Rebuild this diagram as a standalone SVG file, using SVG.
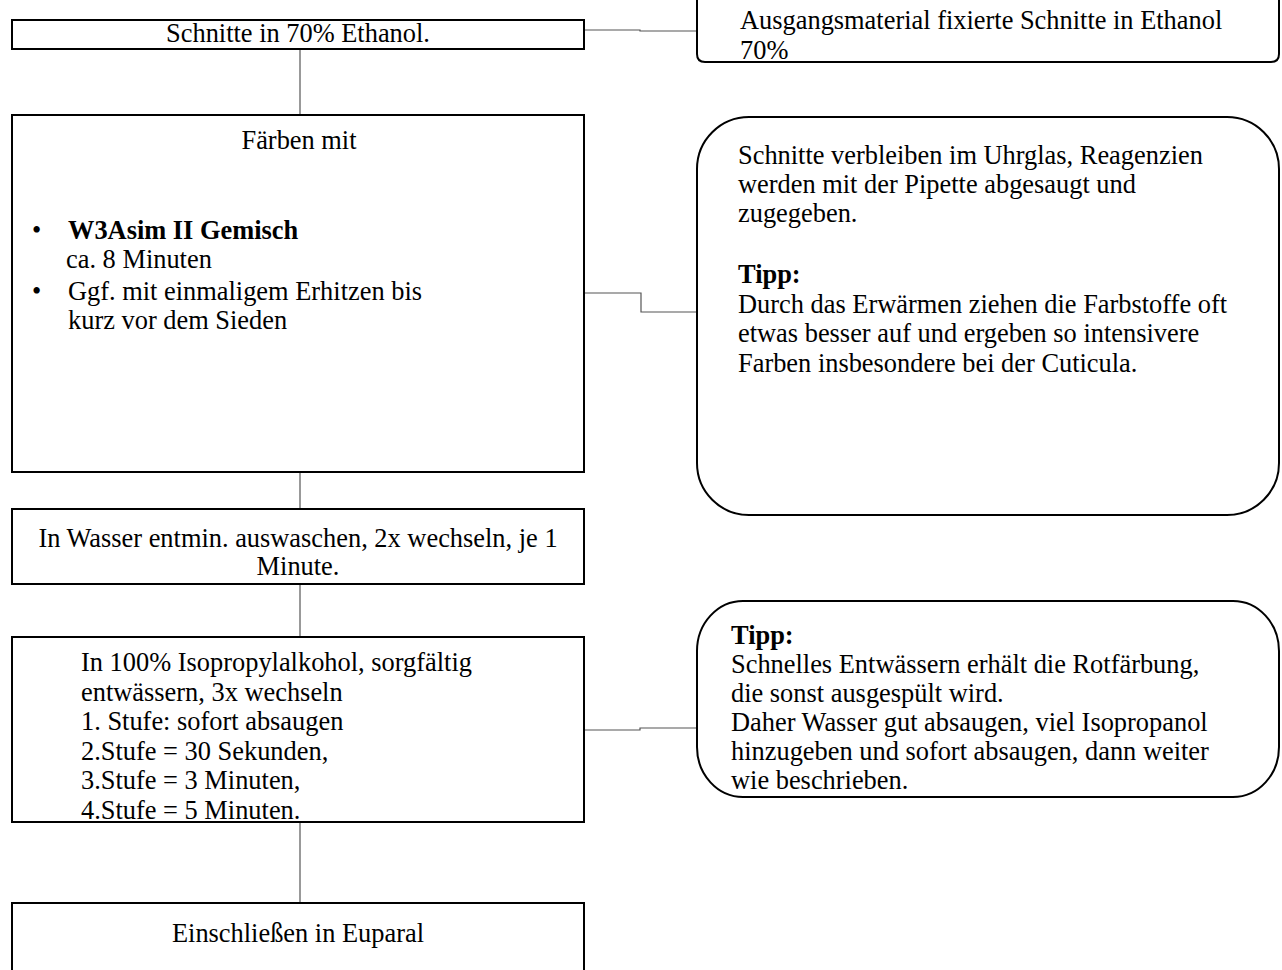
<svg xmlns="http://www.w3.org/2000/svg" width="1282" height="970" viewBox="0 0 1282 970">
<style>
.box{fill:#fff;stroke:#000;stroke-width:2}
.t{font-family:"Liberation Serif","Times New Roman",serif;font-size:26.4px;fill:#000}
.c{text-anchor:middle}
.b{font-weight:bold}
.con{fill:none;stroke:#555;stroke-width:1.2}
</style>
<rect width="1282" height="970" fill="#fff"/>
<g id="connectors">
<path class="con" d="M300,49 V115"/>
<path class="con" d="M300,472 V509"/>
<path class="con" d="M300,584 V637"/>
<path class="con" d="M300,822 V903"/>
<path class="con" d="M584,30 H640 V31 H697"/>
<path class="con" d="M584,293 H641 V312 H697"/>
<path class="con" d="M584,730 H640 V728 H697"/>
</g>
<g id="n1">
<rect class="box" x="12" y="20" width="572" height="29"/>
<text class="t c" x="298" y="42">Schnitte in 70% Ethanol.</text>
</g>
<g id="n2">
<path class="box" d="M697,-10 V54 Q697,62 705,62 H1271 Q1279,62 1279,54 V-10"/>
<text class="t" x="740" y="29">Ausgangsmaterial fixierte Schnitte in Ethanol</text>
<text class="t" x="740" y="59">70%</text>
</g>
<g id="n3">
<rect class="box" x="12" y="115" width="572" height="357"/>
<text class="t c" x="299" y="149">Färben mit</text>
<text class="t" x="32" y="239">•</text>
<text class="t b" x="68" y="239">W3Asim II Gemisch</text>
<text class="t" x="66" y="268">ca. 8 Minuten</text>
<text class="t" x="32" y="300">•</text>
<text class="t" x="68" y="300">Ggf. mit einmaligem Erhitzen bis</text>
<text class="t" x="68" y="329">kurz vor dem Sieden</text>
</g>
<g id="n4">
<rect class="box" x="697" y="117" width="582" height="398" rx="52" ry="52"/>
<text class="t" x="738" y="164">Schnitte verbleiben im Uhrglas, Reagenzien</text>
<text class="t" x="738" y="193">werden mit der Pipette abgesaugt und</text>
<text class="t" x="738" y="222">zugegeben.</text>
<text class="t b" x="738" y="283">Tipp:</text>
<text class="t" x="738" y="313">Durch das Erwärmen ziehen die Farbstoffe oft</text>
<text class="t" x="738" y="342">etwas besser auf und ergeben so intensivere</text>
<text class="t" x="738" y="372">Farben insbesondere bei der Cuticula.</text>
</g>
<g id="n5">
<rect class="box" x="12" y="509" width="572" height="75"/>
<text class="t c" x="298" y="547">In Wasser entmin. auswaschen, 2x wechseln, je 1</text>
<text class="t c" x="298" y="575">Minute.</text>
</g>
<g id="n6">
<rect class="box" x="12" y="637" width="572" height="185"/>
<text class="t" x="81" y="671">In 100% Isopropylalkohol, sorgfältig</text>
<text class="t" x="81" y="701">entwässern, 3x wechseln</text>
<text class="t" x="81" y="730">1. Stufe: sofort absaugen</text>
<text class="t" x="81" y="760">2.Stufe = 30 Sekunden,</text>
<text class="t" x="81" y="789">3.Stufe = 3 Minuten,</text>
<text class="t" x="81" y="819">4.Stufe = 5 Minuten.</text>
</g>
<g id="n7">
<rect class="box" x="697" y="601" width="582" height="196" rx="46" ry="50"/>
<text class="t b" x="731" y="644">Tipp:</text>
<text class="t" x="731" y="673">Schnelles Entwässern erhält die Rotfärbung,</text>
<text class="t" x="731" y="702">die sonst ausgespült wird.</text>
<text class="t" x="731" y="731">Daher Wasser gut absaugen, viel Isopropanol</text>
<text class="t" x="731" y="760">hinzugeben und sofort absaugen, dann weiter</text>
<text class="t" x="731" y="789">wie beschrieben.</text>
</g>
<g id="n8">
<rect class="box" x="12" y="903" width="572" height="80"/>
<text class="t c" x="298" y="942">Einschließen in Euparal</text>
</g>
</svg>
